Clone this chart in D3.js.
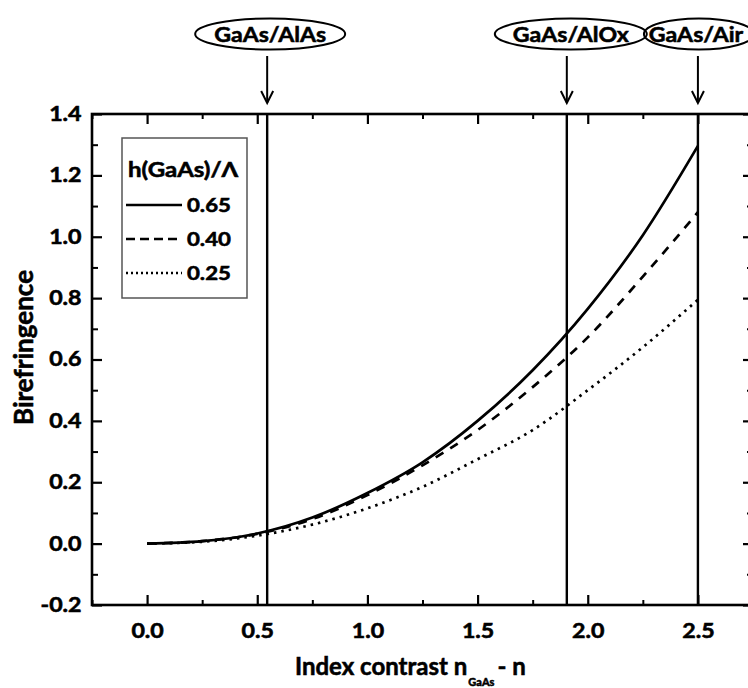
<!DOCTYPE html>
<html>
<head>
<meta charset="utf-8">
<script src="https://cdn.jsdelivr.net/npm/d3@7"></script>
<style>
  html, body { margin: 0; padding: 0; background: #fff; }
  svg { display: block; }
  text { font-family: Lato, "Open Sans", sans-serif; font-weight: bold; fill: #000; stroke: #000; stroke-width: 0.55px; }
</style>
</head>
<body>
<svg id="chart" width="748" height="688"></svg>
<script>
// ---------- data ----------
const xValues   = [0, 0.25, 0.5, 0.75, 1.0, 1.25, 1.5, 1.75, 2.0, 2.25, 2.5];
const birefr065 = [0, 0.008, 0.033, 0.085, 0.165, 0.265, 0.400, 0.565, 0.765, 1.005, 1.296];
const birefr040 = [0, 0.008, 0.032, 0.080, 0.158, 0.255, 0.370, 0.510, 0.672, 0.870, 1.080];
const birefr025 = [0, 0.006, 0.026, 0.062, 0.115, 0.185, 0.275, 0.370, 0.500, 0.640, 0.795];
const seriesLabels = ["0.65", "0.40", "0.25"];
const legendTitle = "h(GaAs)/\u039B";

const interfaceLabels = ["GaAs/AlAs", "GaAs/AlOx", "GaAs/Air"];
const interfaceX = [0.545, 1.905, 2.5];

const xMajorTicks = [0, 0.5, 1.0, 1.5, 2.0, 2.5];
const xMinorTicks = [-0.25, 0.25, 0.75, 1.25, 1.75, 2.25, 2.75];
const yMajorTicks = [-0.2, 0, 0.2, 0.4, 0.6, 0.8, 1.0, 1.2, 1.4];
const yMinorTicks = [-0.1, 0.1, 0.3, 0.5, 0.7, 0.9, 1.1, 1.3];

const xTitle = "Index contrast n";
const xTitleSub = "GaAs";
const xTitleTail = "- n";
const yTitle = "Birefringence";

// ---------- layout ----------
const svg = d3.select("#chart");
const L = 92, R = 753, T = 114, B = 605;
const x = d3.scaleLinear().domain([-0.25, 2.75]).range([L, R]);
const y = d3.scaleLinear().domain([-0.2, 1.4]).range([B, T]);
const fmt = v => v.toFixed(1);

function styleAxis(g, w) {
  g.select(".domain").remove();
  g.selectAll(".tick line").attr("stroke", "#000").attr("stroke-width", w);
}

const addAxis = (gen, tx, ty, w) => {
  const g = svg.append("g").attr("transform", `translate(${tx},${ty})`).call(gen);
  styleAxis(g, w);
  return g;
};
// minor ticks
addAxis(d3.axisBottom(x).tickValues(xMinorTicks).tickSize(-5).tickFormat(""), 0, B, 2);
addAxis(d3.axisTop(x).tickValues(xMinorTicks).tickSize(-5).tickFormat(""), 0, T, 2);
addAxis(d3.axisLeft(y).tickValues(yMinorTicks).tickSize(-6).tickFormat(""), L, 0, 2);
addAxis(d3.axisRight(y).tickValues(yMinorTicks).tickSize(-6).tickFormat(""), R, 0, 2);

// major ticks with labels
const xb = addAxis(d3.axisBottom(x).tickValues(xMajorTicks).tickSize(-10).tickPadding(19).tickFormat(fmt), 0, B, 2.2);
xb.selectAll(".tick text").attr("font-size", 20).attr("transform", "scale(1.16,1)")
  .attr("fill", "#000").style("font-family", "Lato").style("font-weight", "bold");
addAxis(d3.axisTop(x).tickValues(xMajorTicks).tickSize(-10).tickFormat(""), 0, T, 2.2);
const yl = addAxis(d3.axisLeft(y).tickValues(yMajorTicks).tickSize(-10).tickPadding(9).tickFormat(fmt), L, 0, 2.2);
yl.selectAll(".tick text").attr("font-size", 20).attr("transform", "scale(1.16,1)")
  .attr("fill", "#000").style("font-family", "Lato").style("font-weight", "bold");
addAxis(d3.axisRight(y).tickValues(yMajorTicks).tickSize(-10).tickFormat(""), R, 0, 2.2);

// frame
svg.append("rect").attr("x", L).attr("y", T).attr("width", R - L).attr("height", B - T)
  .attr("fill", "none").attr("stroke", "#000").attr("stroke-width", 2.6);

// interface vertical lines
svg.selectAll("line.iface").data(interfaceX).enter().append("line")
  .attr("class", "iface")
  .attr("x1", d => x(d)).attr("x2", d => x(d))
  .attr("y1", T).attr("y2", B)
  .attr("stroke", "#000").attr("stroke-width", 2.4);

// curves
const line = d3.line().x(d => x(d[0])).y(d => y(d[1])).curve(d3.curveMonotoneX);
const series = [
  { vals: birefr065, dash: null },
  { vals: birefr040, dash: "9,8" },
  { vals: birefr025, dash: "2.5,5" }
];
series.forEach(s => {
  svg.append("path")
    .datum(xValues.map((v, i) => [v, s.vals[i]]))
    .attr("d", line)
    .attr("fill", "none")
    .attr("stroke", "#000")
    .attr("stroke-width", 2.7)
    .attr("stroke-dasharray", s.dash);
});

// legend
svg.append("rect").attr("x", 122).attr("y", 138).attr("width", 125).attr("height", 160)
  .attr("fill", "#fff").attr("stroke", "#555").attr("stroke-width", 1.5);
svg.append("text").attr("transform", "translate(128,177) scale(1.2,1)")
  .attr("font-size", 20).text(legendTitle);
const legendDash = [null, "9,5", "2,3"];
seriesLabels.forEach((lab, i) => {
  const ly = 205 + i * 34;
  svg.append("line").attr("x1", 126).attr("x2", i === 1 ? 179 : 182).attr("y1", ly).attr("y2", ly)
    .attr("stroke", "#000").attr("stroke-width", 2.5).attr("stroke-dasharray", legendDash[i]);
  svg.append("text").attr("transform", `translate(187,${ly + 7}) scale(1.2,1)`)
    .attr("font-size", 18.5).text(lab);
});

// interface labels in ellipses with arrows
const ell = [
  { rx: 75, dx: 3, tdx: 3 },
  { rx: 76, dx: 4, tdx: 4 },
  { rx: 55, dx: 1, tdx: -2 }
];
interfaceLabels.forEach((lab, i) => {
  const ax = x(interfaceX[i]);
  const cx = ax + ell[i].dx;
  svg.append("ellipse").attr("cx", cx).attr("cy", 34).attr("rx", ell[i].rx).attr("ry", 15.5)
    .attr("fill", "none").attr("stroke", "#000").attr("stroke-width", 2);
  svg.append("text").attr("transform", `translate(${ax + ell[i].tdx},41.5) scale(1.1,1)`)
    .attr("text-anchor", "middle").attr("font-size", 21).text(lab);
  svg.append("line").attr("x1", ax).attr("x2", ax).attr("y1", 56).attr("y2", 103)
    .attr("stroke", "#000").attr("stroke-width", 2);
  svg.append("path").attr("d", `M${ax - 6},91 L${ax},103 L${ax + 6},91`)
    .attr("fill", "none").attr("stroke", "#000").attr("stroke-width", 2);
});

// axis titles
const xt = svg.append("text").attr("x", 295).attr("y", 675).attr("font-size", 24);
xt.append("tspan").text(xTitle);
xt.append("tspan").attr("font-size", 11).attr("dy", 11).attr("dx", 1).text(xTitleSub);
xt.append("tspan").attr("dy", -11).attr("dx", 3).text(xTitleTail);

svg.append("text").attr("transform", `translate(33,${(T + B) / 2 - 12}) rotate(-90)`)
  .attr("text-anchor", "middle").attr("font-size", 26).text(yTitle);
</script>
</body>
</html>
